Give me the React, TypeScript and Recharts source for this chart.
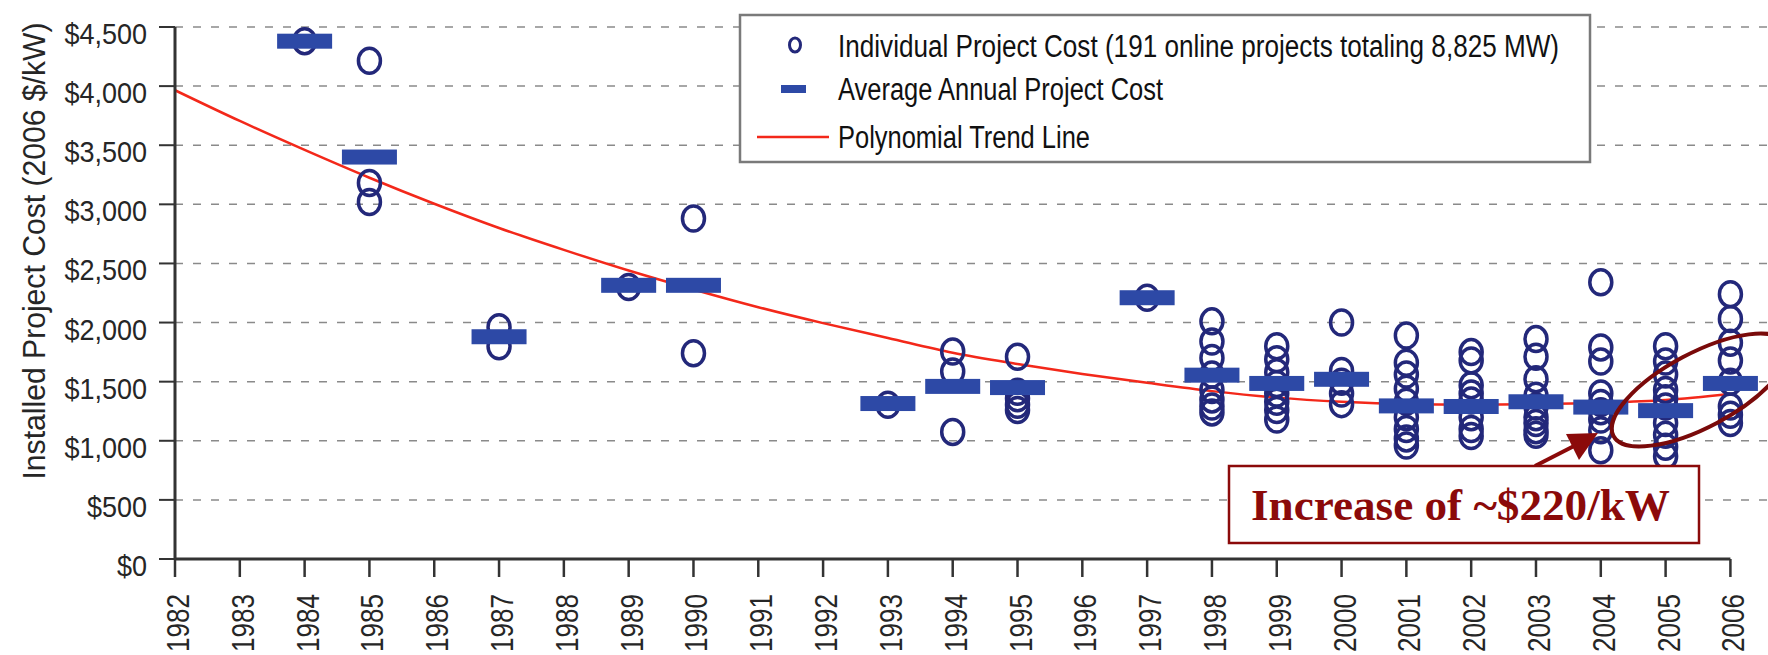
import { ComposedChart, Scatter, Line, XAxis, YAxis, ReferenceLine } from "recharts";

const yearTicks = [
  1982, 1983, 1984, 1985, 1986, 1987, 1988, 1989, 1990, 1991, 1992, 1993, 1994,
  1995, 1996, 1997, 1998, 1999, 2000, 2001, 2002, 2003, 2004, 2005, 2006,
];
const costTicks = [0, 500, 1000, 1500, 2000, 2500, 3000, 3500, 4000, 4500];

// years that have online projects
const projectYears = [
  1984, 1985, 1987, 1989, 1990, 1993, 1994, 1995, 1997, 1998, 1999, 2000, 2001,
  2002, 2003, 2004, 2005, 2006,
];
// individual project costs, one list per year above
const projectCosts = [
  [4380],
  [4215, 3180, 3020],
  [1960, 1800],
  [2300],
  [2880, 1740],
  [1305],
  [1755, 1585, 1075],
  [1710, 1415, 1360, 1305, 1260],
  [2210],
  [2010, 1840, 1700, 1560, 1430, 1350, 1290, 1240],
  [1800, 1690, 1580, 1480, 1400, 1330, 1260, 1180],
  [2000, 1590, 1500, 1400, 1310],
  [1890, 1660, 1560, 1440, 1330, 1200, 1100, 1020, 960],
  [1750, 1680, 1470, 1400, 1340, 1200, 1100, 1040],
  [1860, 1710, 1520, 1380, 1290, 1200, 1150, 1090, 1050],
  [2340, 1790, 1670, 1400, 1320, 1250, 1180, 1090, 920],
  [1800, 1670, 1560, 1430, 1360, 1290, 1150, 1050, 950, 870],
  [2240, 2030, 1830, 1680, 1500, 1290, 1220, 1150],
];
const averageCosts = [
  4380, 3400, 1880, 2315, 2315, 1315, 1460, 1450, 2210, 1555, 1485, 1520, 1295,
  1290, 1330, 1285, 1255, 1485,
];
// polynomial trend line read at each year
const trendCosts = [
  3965, 3705, 3460, 3225, 3005, 2800, 2615, 2440, 2280, 2130, 1995, 1870, 1745,
  1650, 1565, 1490, 1420, 1365, 1330, 1310, 1305, 1310, 1322, 1345, 1395,
];

const NAVY = "#23287a";
const BLUE = "#2d49a6";
const RED = "#f3281a";
const DARKRED = "#8b0a0a";
const AXIS = "#333";
const TEXT = "#262626";
const FONT = "'Liberation Sans', Arial, sans-serif";

const individualData = projectYears.flatMap((year, i) =>
  projectCosts[i].map((cost) => ({ year, cost }))
);
const averageData = projectYears.map((year, i) => ({ year, cost: averageCosts[i] }));
const trendData = yearTicks.map((year, i) => ({ year, cost: trendCosts[i] }));

const Ring = (props: any) => (
  <ellipse cx={props.cx} cy={props.cy} rx={11} ry={12.5} fill="none" stroke={NAVY} strokeWidth={3.5} />
);

const AvgBar = (props: any) => (
  <rect x={props.cx - 27.5} y={props.cy - 7.5} width={55} height={15} fill={BLUE} />
);

function YearTick({ x, y, payload }: any) {
  return (
    <g>
      <line x1={x} y1={y} x2={x} y2={y + 18} stroke={AXIS} strokeWidth={2.5} />
      <text
        transform={`translate(${x + 14}, ${y + 35}) rotate(-90)`}
        textAnchor="end"
        fontSize={31}
        fontFamily={FONT}
        fill={TEXT}
        textLength={58}
        lengthAdjust="spacingAndGlyphs"
      >
        {payload.value}
      </text>
    </g>
  );
}

function CostTick({ x, y, payload }: any) {
  return (
    <g>
      <line x1={x - 16} y1={y} x2={x} y2={y} stroke={AXIS} strokeWidth={2} />
      <g transform={`translate(${x - 28}, ${y + 17}) scale(0.9, 1)`}>
        <text x={0} y={0} textAnchor="end" fontSize={30} fontFamily={FONT} fill={TEXT}>
          {"$" + Number(payload.value).toLocaleString("en-US")}
        </text>
      </g>
    </g>
  );
}

function Overlay() {
  return (
    <svg width={1768} height={655} style={{ position: "absolute", left: 0, top: 0, pointerEvents: "none" }}>
      {/* y axis title */}
      <text
        transform="translate(45, 251) rotate(-90)"
        textAnchor="middle"
        fontSize={31}
        fontFamily={FONT}
        fill={TEXT}
        textLength={457}
        lengthAdjust="spacingAndGlyphs"
      >
        Installed Project Cost (2006 $/kW)
      </text>

      {/* legend */}
      <rect x={740} y={15} width={850} height={147} fill="#fff" stroke="#7a7a7a" strokeWidth={2.5} />
      <ellipse cx={795} cy={45} rx={5.5} ry={7} fill="none" stroke={NAVY} strokeWidth={3} />
      <rect x={781} y={85} width={25} height={8} fill={BLUE} />
      <line x1={757} y1={137} x2={829} y2={137} stroke={RED} strokeWidth={2.5} />
      <g fontSize={31} fontFamily={FONT} fill="#111">
        <text x={838} y={57} textLength={721} lengthAdjust="spacingAndGlyphs">
          Individual Project Cost (191 online projects totaling 8,825 MW)
        </text>
        <text x={838} y={100} textLength={325} lengthAdjust="spacingAndGlyphs">
          Average Annual Project Cost
        </text>
        <text x={838} y={148} textLength={252} lengthAdjust="spacingAndGlyphs">
          Polynomial Trend Line
        </text>
      </g>

      {/* annotation */}
      <ellipse cx={1700} cy={390} rx={98} ry={37} transform="rotate(-28 1700 390)" fill="none" stroke="#7a0a0a" strokeWidth={4} />
      <line x1={1535} y1={466} x2={1576} y2={445} stroke={DARKRED} strokeWidth={4} />
      <polygon points="1566,434 1598,433 1579,460" fill={DARKRED} />
      <rect x={1229} y={466} width={470} height={77} fill="#fff" stroke={DARKRED} strokeWidth={2.5} />
      <text
        x={1251}
        y={520}
        fontSize={44}
        fontWeight="bold"
        fontFamily="'Liberation Serif', 'Times New Roman', serif"
        fill={DARKRED}
        textLength={419}
        lengthAdjust="spacingAndGlyphs"
      >
        Increase of ~$220/kW
      </text>
    </svg>
  );
}

export default function App() {
  return (
    <div style={{ position: "absolute", left: 0, top: 0, width: 1768, height: 655, background: "#fff" }}>
      <ComposedChart width={1768} height={655} margin={{ top: 27, right: 0, bottom: 0, left: 0 }}>
        <XAxis
          type="number"
          dataKey="year"
          domain={[1982, 2006.58]}
          ticks={yearTicks}
          allowDataOverflow
          axisLine={false}
          tickLine={false}
          tickSize={0}
          tickMargin={0}
          height={96}
          tick={<YearTick />}
          interval={0}
        />
        <YAxis
          type="number"
          dataKey="cost"
          domain={[0, 4500]}
          ticks={costTicks}
          width={175}
          axisLine={{ stroke: AXIS, strokeWidth: 3 }}
          tickLine={false}
          tickSize={0}
          tickMargin={0}
          tick={<CostTick />}
          interval={0}
        />
        {costTicks.slice(1).map((v) => (
          <ReferenceLine key={v} y={v} stroke="#8a8a8a" strokeWidth={1.5} strokeDasharray="8 10" />
        ))}
        <ReferenceLine
          segment={[{ x: 1982, y: 0 }, { x: 2006, y: 0 }]}
          stroke={AXIS}
          strokeWidth={3}
          ifOverflow="visible"
        />
        <Scatter data={individualData} dataKey="cost" shape={<Ring />} isAnimationActive={false} />
        <Scatter data={averageData} dataKey="cost" shape={<AvgBar />} isAnimationActive={false} />
        <Line
          data={trendData}
          dataKey="cost"
          type="monotone"
          stroke={RED}
          strokeWidth={2.5}
          dot={false}
          activeDot={false}
          isAnimationActive={false}
        />
      </ComposedChart>
      <Overlay />
    </div>
  );
}
